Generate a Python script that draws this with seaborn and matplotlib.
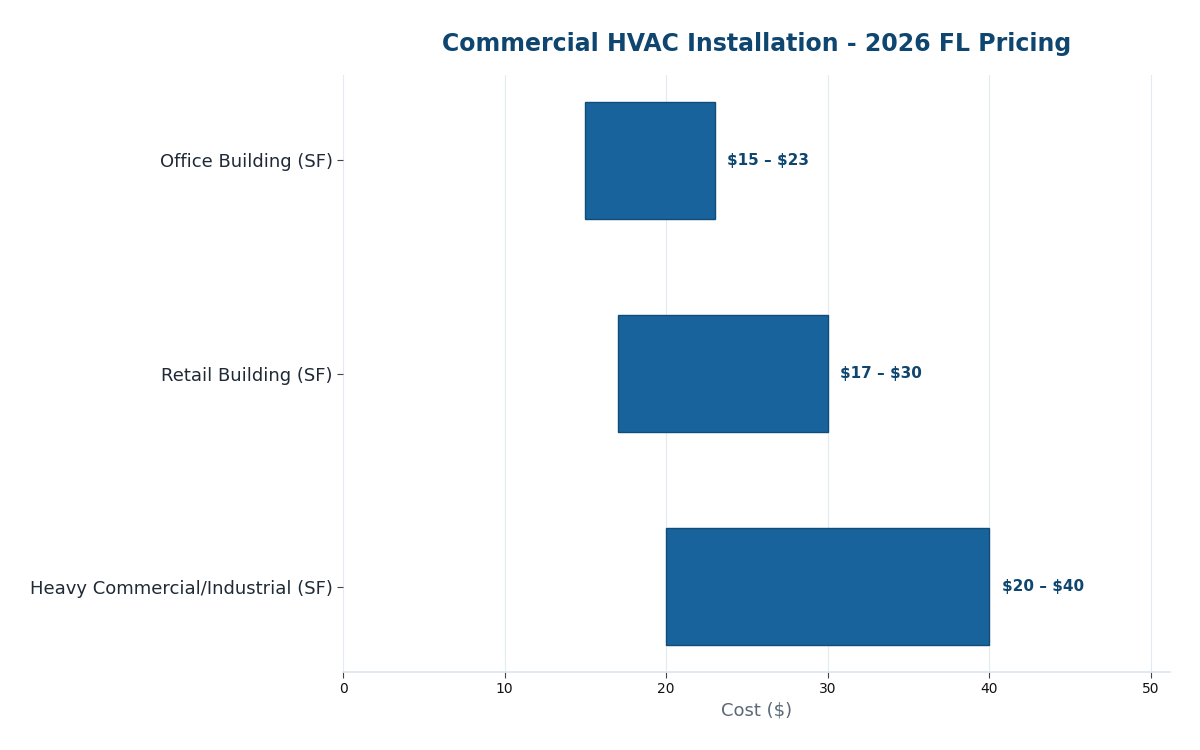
import matplotlib
matplotlib.use("Agg")
import numpy as np
import pandas as pd
import matplotlib.pyplot as plt
import seaborn as sns

# --- data ---
categories = ["Office Building (SF)", "Retail Building (SF)", "Heavy Commercial/Industrial (SF)"]
cost_low = [15, 17, 20]
cost_high = [23, 30, 40]

BAR_COLOR = "#18639b"
EDGE_COLOR = "#0f4c78"
TITLE_COLOR = "#0f4670"

sns.set_theme(style="white")
plt.rcParams["font.family"] = ["DejaVu Sans"]

df = pd.DataFrame({"category": categories, "low": cost_low, "high": cost_high})
df["span"] = df["high"] - df["low"]

fig, ax = plt.subplots(figsize=(12, 7.5), dpi=100)

sns.barplot(data=df, x="span", y="category", orient="h", color=BAR_COLOR,
            edgecolor=EDGE_COLOR, linewidth=1, width=0.55, saturation=1, ax=ax)

# shift each bar so it starts at the low end of the range
for patch, lo, hi in zip(ax.patches, df["low"], df["high"]):
    patch.set_x(lo)
    ax.annotate(f"\\${lo} – \\${hi}", xy=(hi, patch.get_y() + patch.get_height() / 2),
                xytext=(9, 0), textcoords="offset points", va="center", ha="left",
                fontsize=11, fontweight="bold", color=TITLE_COLOR)

ax.set_xlim(0, 51.2)
ax.set_ylim(2.4, -0.4)
ax.set_xticks([0, 10, 20, 30, 40, 50])
ax.grid(axis="x", color="#e3ebf2", linewidth=0.8)
ax.set_axisbelow(True)

for side in ["top", "right", "left"]:
    ax.spines[side].set_visible(False)
ax.spines["bottom"].set_color("#dde6ee")

ax.tick_params(axis="x", labelsize=10, length=4, width=0.8, color="#444444",
               labelcolor="#111111", bottom=True)
ax.tick_params(axis="y", labelsize=13, length=4, width=0.8, color="#444444",
               left=True, labelcolor="#1f2a36")

ax.set_ylabel("")
ax.set_xlabel("Cost ($)", fontsize=13, color="#5a6878")
ax.set_title("Commercial HVAC Installation - 2026 FL Pricing", fontsize=17,
             fontweight="bold", color=TITLE_COLOR, pad=17)

plt.subplots_adjust(left=0.286, right=0.975, top=0.90, bottom=0.104)
fig.savefig("out.png", dpi=100)
